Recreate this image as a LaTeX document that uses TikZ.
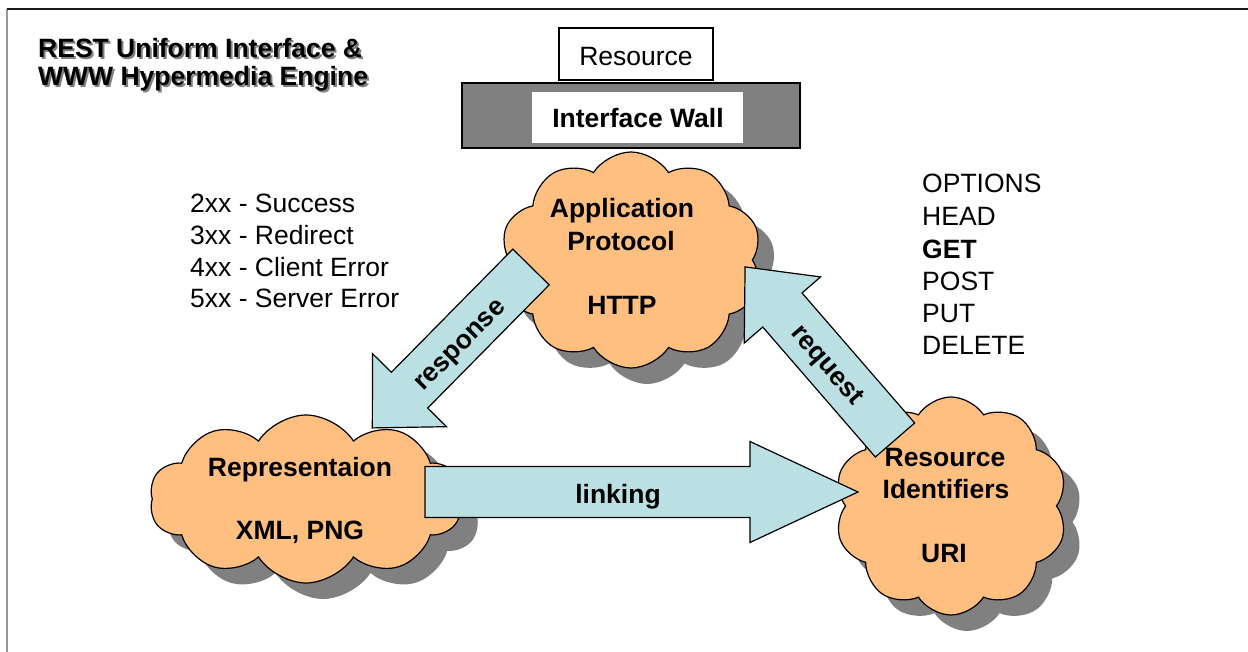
\documentclass[tikz,border=0pt]{standalone}
\usepackage{fontspec}
\setmainfont{Liberation Sans}
\usetikzlibrary{shapes.symbols}
\definecolor{cloudfill}{HTML}{FFBF80}
\definecolor{arrowfill}{HTML}{BAE0E3}
\definecolor{shadowgray}{HTML}{808080}
\newcommand\blockarrowshape[7]{%
  \begin{scope}[shift={(#1,#2)},rotate=#3]
    \draw[arrowsty] (0,-#5) -- ({#4-#7},-#5) -- ({#4-#7},-#6) -- (#4,0) -- ({#4-#7},#6) -- ({#4-#7},#5) -- (0,#5) -- cycle;
  \end{scope}}
\tikzset{
  basefont/.style={font=\fontsize{26.5}{30}\selectfont},
  boldfont/.style={font=\fontsize{26.5}{30}\selectfont\bfseries},
  cloudsty/.style={cloud, cloud puffs=10, cloud puff arc=115, draw=black, line width=1.2pt, fill=cloudfill, inner sep=0pt},
  cloudshadow/.style={cloud, cloud puffs=10, cloud puff arc=115, fill=shadowgray, draw=none, inner sep=0pt},
  arrowsty/.style={draw=black, line width=1.2pt, fill=arrowfill, line join=miter},
  listtext/.style={basefont, anchor=base west, inner sep=0pt},
  ctext/.style={boldfont, anchor=base, inner sep=0pt},
}
\begin{document}
\begin{tikzpicture}[x=1pt,y=-1pt]
\useasboundingbox (0,0) rectangle (1248,652);
\fill[white] (0,0) rectangle (1248,652);
% frame
\coordinate (fTL) at (7,9);
\coordinate (fTR) at (1248,9);
\coordinate (fBL) at (7,652);
\draw[line width=1.3pt, black!40] (fTL) -- (fBL);
\draw[line width=2.6pt, black!90] (fTL) -- (fTR);

% title with shadow
\node[boldfont, anchor=base west, inner sep=0pt, text=shadowgray] (t1s) at (40,60) {REST Uniform Interface \&};
\node[boldfont, anchor=base west, inner sep=0pt, text=shadowgray] (t2s) at (40,88) {WWW Hypermedia Engine};
\node[boldfont, anchor=base west, inner sep=0pt] (t1) at (38,58) {REST Uniform Interface \&};
\node[boldfont, anchor=base west, inner sep=0pt] (t2) at (38,86) {WWW Hypermedia Engine};

% resource and interface wall
\node[draw=black, line width=1.2pt, minimum width=154pt, minimum height=52pt, inner sep=0pt] (resbox) at (636,54) {};
\node[basefont, anchor=base, inner sep=0pt] (restext) at (636,66) {Resource};
\node[draw=black, line width=1.2pt, fill=shadowgray, minimum width=338pt, minimum height=65pt, inner sep=0pt] (wall) at (631,115.5) {};
\node[fill=white, minimum width=211pt, minimum height=51pt, inner sep=0pt] (wallin) at (637.5,117.5) {};
\node[ctext] (walltext) at (638,128) {Interface Wall};

% cloud shadows
\node[cloudshadow, minimum width=262pt, minimum height=216pt, aspect=1.21] (appS) at (647,276) {};
\node[cloudshadow, minimum width=313pt, minimum height=168pt, aspect=1.86] (repS) at (323,515) {};
\node[cloudshadow, minimum width=233pt, minimum height=218pt, aspect=1.07] (uriS) at (967,522) {};

% clouds
\node[cloudsty, minimum width=262pt, minimum height=216pt, aspect=1.21] (app) at (631,260) {};
\node[cloudsty, minimum width=313pt, minimum height=168pt, aspect=1.86] (rep) at (306,499) {};
\node[cloudsty, minimum width=233pt, minimum height=218pt, aspect=1.07] (uri) at (951,506) {};

% cloud texts
\node[ctext] (appT1) at (622,218) {Application};
\node[ctext] (appT2) at (621,251) {Protocol};
\node[ctext] (appT3) at (622,315) {HTTP};
\node[ctext] (repT1) at (300,476) {Representaion};
\node[ctext] (repT2) at (300,539) {XML, PNG};
\node[ctext] (uriT1) at (945,466) {Resource};
\node[ctext] (uriT2) at (946,498) {Identifiers};
\node[ctext] (uriT3) at (944,562) {URI};

% block arrows
\blockarrowshape{531}{267}{225.4}{226}{25.5}{52}{53}
\blockarrowshape{895}{440}{130.9}{229}{26}{50.5}{57}
\blockarrowshape{425}{492}{0}{433}{25.5}{50.5}{108}
\node[boldfont, rotate=45, inner sep=0pt] (resp) at (462,347) {response};
\node[boldfont, rotate=-49, inner sep=0pt] (reqt) at (826,366) {request};
\node[ctext] (link) at (618,503) {linking};

% status codes
\node[listtext] (s2) at (190,213) {2xx - Success};
\node[listtext] (s3) at (190,245) {3xx - Redirect};
\node[listtext] (s4) at (190,277) {4xx - Client Error};
\node[listtext] (s5) at (190,308) {5xx - Server Error};

% methods
\node[listtext] (m1) at (922,193) {OPTIONS};
\node[listtext] (m2) at (922,226) {HEAD};
\node[listtext, font=\fontsize{26.5}{30}\selectfont\bfseries] (m3) at (922,259) {GET};
\node[listtext] (m4) at (922,291) {POST};
\node[listtext] (m5) at (922,323) {PUT};
\node[listtext] (m6) at (922,355) {DELETE};
\end{tikzpicture}
\end{document}
